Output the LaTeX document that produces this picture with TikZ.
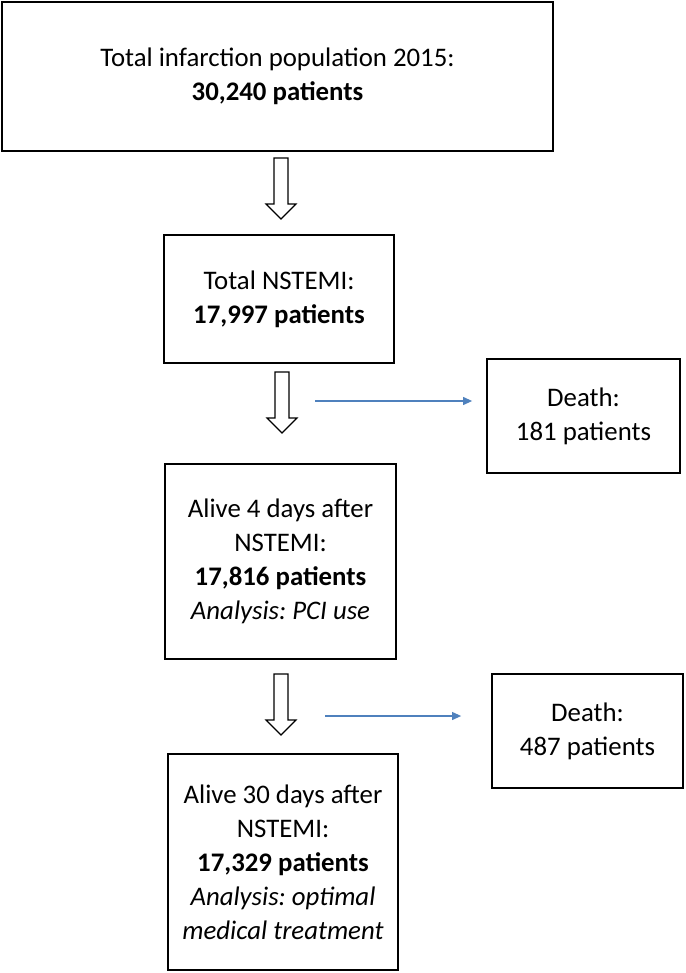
\documentclass[tikz,border=0pt]{standalone}
\usepackage{fontspec}
\setmainfont{Carlito}
\frenchspacing
\usetikzlibrary{arrows.meta}
\definecolor{officeblue}{HTML}{4F81BD}
\tikzset{
  box/.style={draw=black, line width=1.8pt, rectangle, align=center,
    font=\fontsize{26.8}{34}\selectfont, inner sep=0pt},
  hollow/.style={draw=black, line width=1.1pt, fill=white, line join=miter},
  bluearrow/.style={draw=officeblue, line width=1.1pt, -{Triangle[length=9pt,width=8pt]}}
}
\newcommand{\hollowarrow}[3]{% x, top y, tip y
  \draw[hollow] (#1-7,#2) -- (#1+7,#2) -- (#1+7,#3-15) -- (#1+15,#3-15) -- (#1,#3)
     -- (#1-15,#3-15) -- (#1-7,#3-15) -- cycle;}
\begin{document}
\begin{tikzpicture}[x=1pt,y=-1pt]
\useasboundingbox (0,0) rectangle (685,973);
\node[box, minimum width=551pt, minimum height=149pt] (total) at (277.5,76.5)
  {Total infarction population 2015:\\ \textbf{30,240 patients}};
\node[box, minimum width=230pt, minimum height=128pt] (nstemi) at (279,299)
  {Total NSTEMI:\\ \textbf{17,997 patients}};
\node[box, minimum width=193pt, minimum height=114pt] (death1) at (583.5,416)
  {Death:\\ 181 patients};
\node[box, minimum width=231pt, minimum height=195pt] (alive4) at (280.5,561.5)
  {Alive 4 days after\\ NSTEMI:\\ \textbf{17,816 patients}\\ \textit{Analysis: PCI use}};
\node[box, minimum width=191pt, minimum height=114pt] (death2) at (587.5,731)
  {Death:\\ 487 patients};
\node[box, minimum width=230pt, minimum height=216pt] (alive30) at (283,862)
  {Alive 30 days after\\ NSTEMI:\\ \textbf{17,329 patients}\\ \textit{Analysis: optimal}\\ \textit{medical treatment}};
\hollowarrow{281}{158}{219}
\hollowarrow{282}{372}{433}
\hollowarrow{281}{674}{735}
\coordinate (b1) at (315,401);
\coordinate (b2) at (325,716);
\draw[bluearrow, shorten >=14pt] (b1) -- (b1 -| death1.west);
\draw[bluearrow, shorten >=30pt] (b2) -- (b2 -| death2.west);
\end{tikzpicture}
\end{document}
